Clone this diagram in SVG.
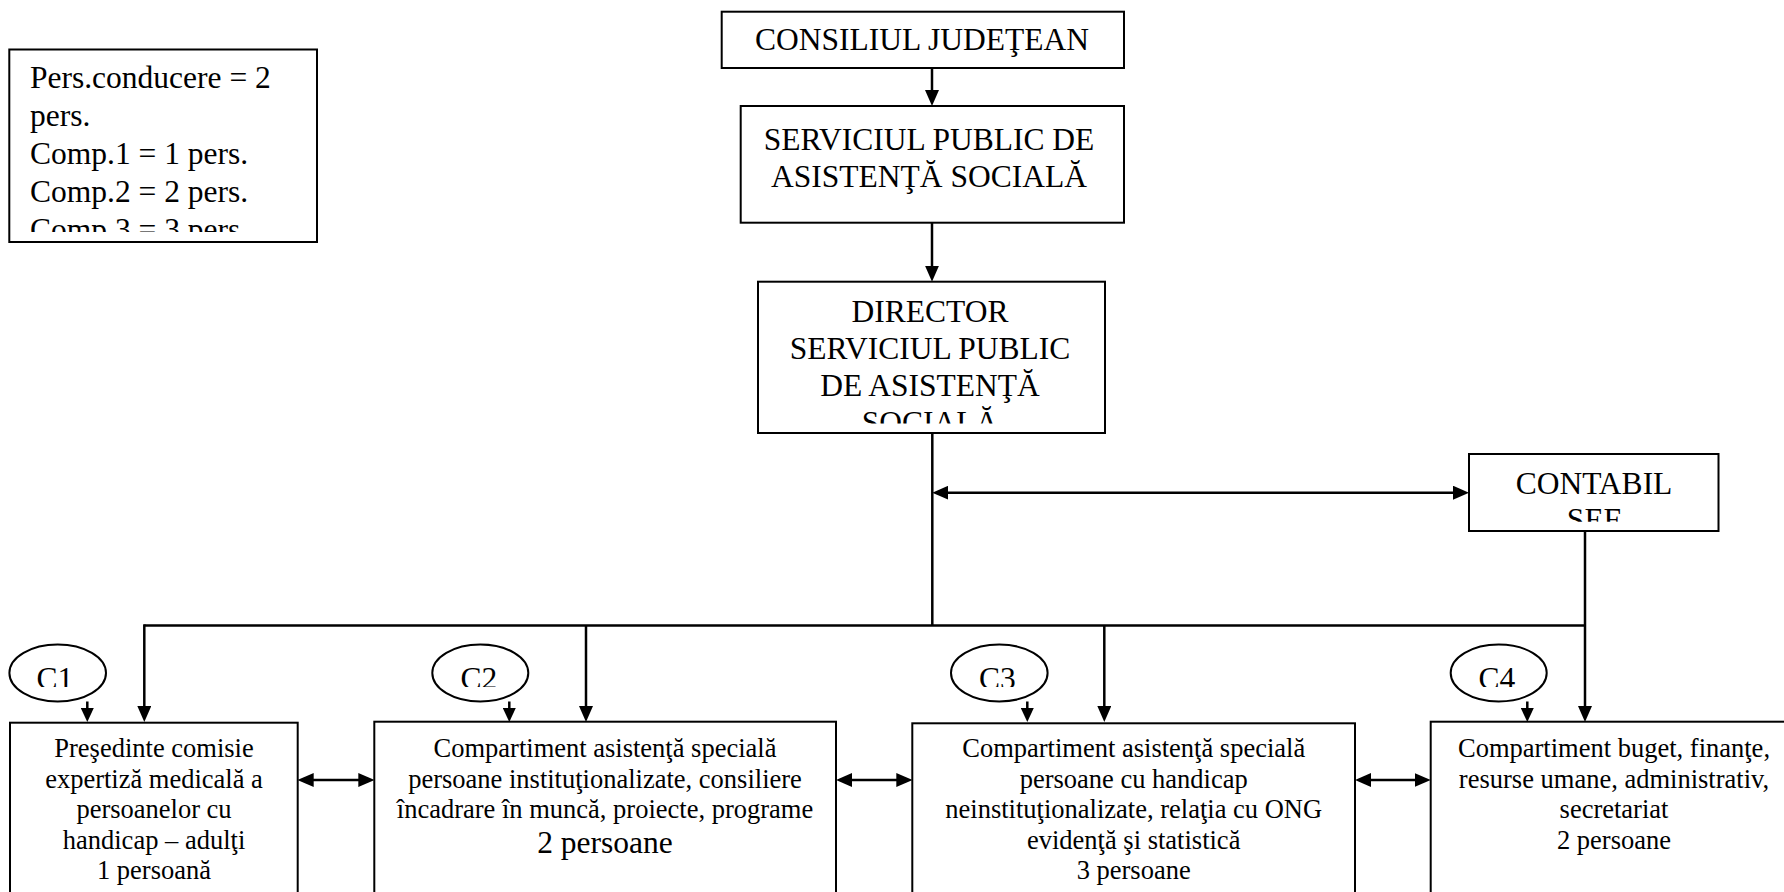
<svg xmlns="http://www.w3.org/2000/svg" width="1784" height="892" viewBox="0 0 1784 892">
<style>
.box{fill:#fff;stroke:#000;stroke-width:2}
.ell{fill:#fff;stroke:#000;stroke-width:2}
.ln{fill:none;stroke:#000;stroke-width:2.5}
.big{font-family:"Liberation Serif","Times New Roman",serif;font-size:31.5px;fill:#000}
.sm{font-family:"Liberation Serif","Times New Roman",serif;font-size:26.5px;fill:#000}
.c{text-anchor:middle}
</style>
<defs>
<marker id="arr" viewBox="0 0 16 14" markerWidth="16" markerHeight="14" markerUnits="userSpaceOnUse" refX="8" refY="7" orient="auto-start-reverse">
<path d="M0,0 L16,7 L0,14 z" fill="#000"/>
</marker>
<marker id="arrS" viewBox="0 0 14 13" markerWidth="14" markerHeight="13" markerUnits="userSpaceOnUse" refX="7" refY="6.5" orient="auto">
<path d="M0,0 L14,6.5 L0,13 z" fill="#000"/>
</marker>
<clipPath id="clipLegend"><rect x="9" y="49" width="310" height="183"/></clipPath>
<clipPath id="clipDir"><rect x="758" y="281" width="347" height="142.5"/></clipPath>
<clipPath id="clipCont"><rect x="1469" y="454" width="250" height="67.7"/></clipPath>
<clipPath id="clipC"><rect x="0" y="640" width="1784" height="47"/></clipPath>
</defs>

<g id="connectors">
<line class="ln" x1="932" y1="68" x2="932" y2="98" marker-end="url(#arr)"/>
<line class="ln" x1="932" y1="222.7" x2="932" y2="273.7" marker-end="url(#arr)"/>
<line class="ln" x1="932.3" y1="433" x2="932.3" y2="625.5"/>
<line class="ln" x1="940.3" y1="492.7" x2="1461" y2="492.7" marker-start="url(#arr)" marker-end="url(#arr)"/>
<line class="ln" x1="144.3" y1="625.5" x2="1585" y2="625.5"/>
<line class="ln" x1="144.3" y1="624.3" x2="144.3" y2="714" marker-end="url(#arr)"/>
<line class="ln" x1="586" y1="625.5" x2="586" y2="714" marker-end="url(#arr)"/>
<line class="ln" x1="1104.3" y1="625.5" x2="1104.3" y2="714" marker-end="url(#arr)"/>
<line class="ln" x1="1585" y1="531" x2="1585" y2="714" marker-end="url(#arr)"/>
<line class="ln" x1="87.3" y1="701.5" x2="87.3" y2="715" marker-end="url(#arrS)"/>
<line class="ln" x1="509.3" y1="701.5" x2="509.3" y2="715" marker-end="url(#arrS)"/>
<line class="ln" x1="1027.3" y1="701.5" x2="1027.3" y2="715" marker-end="url(#arrS)"/>
<line class="ln" x1="1527.3" y1="701.5" x2="1527.3" y2="715" marker-end="url(#arrS)"/>
<line class="ln" x1="305.7" y1="780" x2="366.3" y2="780" marker-start="url(#arr)" marker-end="url(#arr)"/>
<line class="ln" x1="844" y1="780" x2="904.3" y2="780" marker-start="url(#arr)" marker-end="url(#arr)"/>
<line class="ln" x1="1363" y1="780" x2="1422.7" y2="780" marker-start="url(#arr)" marker-end="url(#arr)"/>
</g>

<g id="legend">
<rect class="box" x="9.3" y="49.5" width="307.7" height="192.5"/>
<g clip-path="url(#clipLegend)" class="big">
<text x="30" y="88.3">Pers.conducere = 2</text>
<text x="30" y="126.3">pers.</text>
<text x="30" y="164.3">Comp.1 = 1 pers.</text>
<text x="30" y="202.3">Comp.2 = 2 pers.</text>
<text x="30" y="240.3">Comp.3 = 3 pers.</text>
</g>
</g>

<g id="consiliul">
<rect class="box" x="721.7" y="11.7" width="402.3" height="56.3"/>
<text class="big c" x="922" y="50">CONSILIUL JUDEŢEAN</text>
</g>

<g id="serviciul">
<rect class="box" x="740.7" y="106" width="383.3" height="116.7"/>
<text class="big c" x="929" y="150">SERVICIUL PUBLIC DE</text>
<text class="big c" x="929" y="186.7">ASISTENŢĂ SOCIALĂ</text>
</g>

<g id="director">
<rect class="box" x="758" y="281.7" width="347" height="151.3"/>
<g clip-path="url(#clipDir)" class="big c">
<text x="930" y="321.7">DIRECTOR</text>
<text x="930" y="358.7">SERVICIUL PUBLIC</text>
<text x="930" y="395.7">DE ASISTENŢĂ</text>
<text x="930" y="432.7">SOCIALĂ</text>
</g>
</g>

<g id="contabil">
<rect class="box" x="1469" y="454" width="249.5" height="77"/>
<g clip-path="url(#clipCont)" class="big c">
<text x="1594" y="494">CONTABIL</text>
<text x="1594" y="530">SEF</text>
</g>
</g>

<g id="c1">
<rect class="box" x="10" y="722.7" width="287.7" height="200"/>
<text class="sm c" x="154" y="757">Preşedinte comisie</text>
<text class="sm c" x="154" y="787.5">expertiză medicală a</text>
<text class="sm c" x="154" y="818">persoanelor cu</text>
<text class="sm c" x="154" y="848.5">handicap – adulţi</text>
<text class="sm c" x="154" y="879">1 persoană</text>
</g>

<g id="c2">
<rect class="box" x="374.3" y="721.7" width="461.7" height="200"/>
<text class="sm c" x="605" y="757">Compartiment asistenţă specială</text>
<text class="sm c" x="605" y="787.5">persoane instituţionalizate, consiliere</text>
<text class="sm c" x="605" y="818">încadrare în muncă, proiecte, programe</text>
<text class="big c" x="605" y="853">2 persoane</text>
</g>

<g id="c3">
<rect class="box" x="912.3" y="723.3" width="442.7" height="200"/>
<text class="sm c" x="1133.7" y="757">Compartiment asistenţă specială</text>
<text class="sm c" x="1133.7" y="787.5">persoane cu handicap</text>
<text class="sm c" x="1133.7" y="818">neinstituţionalizate, relaţia cu ONG</text>
<text class="sm c" x="1133.7" y="848.5">evidenţă şi statistică</text>
<text class="sm c" x="1133.7" y="879">3 persoane</text>
</g>

<g id="c4">
<rect class="box" x="1430.7" y="721.7" width="366" height="200"/>
<text class="sm c" x="1614" y="757">Compartiment buget, finanţe,</text>
<text class="sm c" x="1614" y="787.5">resurse umane, administrativ,</text>
<text class="sm c" x="1614" y="818">secretariat</text>
<text class="sm c" x="1614" y="848.5">2 persoane</text>
</g>

<g id="labels">
<ellipse class="ell" cx="57.7" cy="673" rx="48.3" ry="28.5"/>
<ellipse class="ell" cx="480.3" cy="673" rx="48" ry="28.5"/>
<ellipse class="ell" cx="999.3" cy="673" rx="48.3" ry="28.5"/>
<ellipse class="ell" cx="1498.7" cy="673" rx="48" ry="28.5"/>
<g clip-path="url(#clipC)" class="big c">
<text x="55" y="689">C1</text>
<text x="479" y="689">C2</text>
<text x="997.5" y="689">C3</text>
<text x="1497" y="689">C4</text>
</g>
</g>
</svg>
